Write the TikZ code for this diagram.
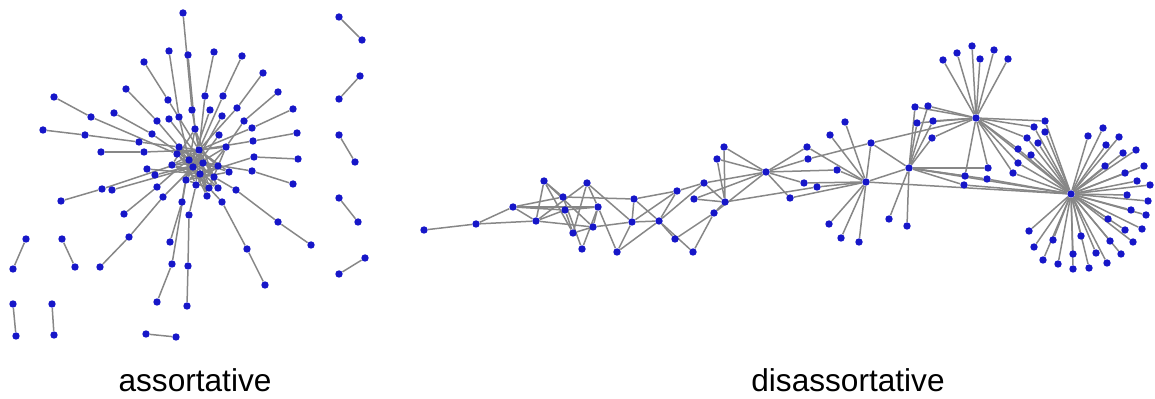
\documentclass[tikz,border=0pt]{standalone}
\usepackage{fontspec}
\setmainfont{Liberation Sans}
\usepackage{xcolor}
\usetikzlibrary{positioning,backgrounds}

\definecolor{dotblue}{RGB}{22,22,200}
\definecolor{edgegray}{RGB}{135,135,135}

\begin{document}
\begin{tikzpicture}[x=0.5pt,y=-0.5pt,
    dot/.style={circle,fill=dotblue,inner sep=0pt,minimum size=3.7pt},
    edge/.style={draw=edgegray,line width=0.75pt},
    lbl/.style={font=\fontsize{15.8}{18}\selectfont,inner sep=0pt}]
        \useasboundingbox (0,0) rectangle (1155,399);

        % Assortative: core
        \foreach \n/\x/\y in {c0/199/150, c1/179/147, c2/177/154, c3/189/160, c4/203/163, c5/172/165,
            c6/193/167, c7/218/166, c8/200/174, c9/214/177, c10/186/180, c11/196/185, c12/209/188,
            c13/218/188, c14/195/129, c15/226/147, c16/207/196, c17/229/172}
            \node[dot] (\n) at (\x,\y) {};

        % Assortative: middle ring
        \foreach \n/\x/\y in {m1/192/110, m2/179/117, m3/205/96, m4/223/96, m5/168/100, m6/237/108,
            m7/157/121, m8/244/121, m9/91/117, m10/252/128, m11/152/134, m12/85/135, m13/253/141,
            m14/144/152, m15/254/157, m16/252/171, m17/102/189, m18/157/187, m19/129/237, m20/163/197,
            m21/182/202, m22/172/264, m23/188/266, m24/189/215, m25/247/249, m26/222/202, m27/278/222,
            m28/236/190, m29/139/142, m30/169/119, m31/222/116, m32/210/110, m33/219/135, m34/147/169,
            m35/155/175, m36/112/190}
            \node[dot] (\n) at (\x,\y) {};

        % Assortative: outer ring
        \foreach \n/\x/\y in {o1/183/13, o2/188/55, o3/169/51, o4/214/52, o5/242/56, o6/144/62,
            o7/263/73, o8/126/89, o9/278/92, o10/54/97, o11/293/109, o12/114/113, o13/43/130,
            o14/297/133, o15/101/152, o16/298/159, o17/293/184, o18/61/201, o19/124/214, o20/100/267,
            o21/170/242, o22/157/302, o23/187/306, o24/265/285, o25/311/245}
            \node[dot] (\n) at (\x,\y) {};

        % Assortative: isolated pairs
        \foreach \n/\x/\y in {p1a/339/17, p1b/362/40, p2a/360/76, p2b/339/99, p3a/339/135, p3b/355/162,
            p4a/339/198, p4b/358/222, p5a/365/258, p5b/339/274, p6a/26/239, p6b/13/269, p7a/62/239,
            p7b/75/267, p8a/13/304, p8b/16/336, p9a/52/304, p9b/54/335, p10a/146/334, p10b/176/337}
            \node[dot] (\n) at (\x,\y) {};

        % Disassortative: chain on the left
        \foreach \n/\x/\y in {r1/424/230, r2/476/224, r3/513/207, r4/536/221, r5/544/181, r6/563/197,
            r7/565/210, r8/573/233, r9/582/249, r10/587/183, r11/598/207, r12/593/227, r13/617/252,
            r14/634/199, r15/632/222, r16/659/221, r17/677/191, r18/675/239, r19/693/252, r20/694/199,
            r21/704/183, r22/714/213, r23/725/202, r24/717/159, r25/724/147}
            \node[dot] (\n) at (\x,\y) {};

        % Disassortative: hubs and their leaves
        \foreach \n/\x/\y in {h1/766/172, h2/866/182, h3/909/168, h4/976/118, h5/1071/194,
            r26/807/147, r27/808/159, r28/837/170, r29/804/183, r30/817/187, r31/790/198, r32/830/135,
            r33/845/122, r34/871/143, r35/829/224, r36/841/238, r37/859/242, r38/889/219, r39/907/226,
            r40/915/107, r41/928/106, r42/917/123, r43/933/121, r44/932/138, r45/965/176, r46/964/185,
            r47/988/168, r48/987/179, r49/1013/173, r50/1018/163, r51/1018/149, r52/1031/155,
            r53/1027/138, r54/1038/143, r55/1034/127, r56/1045/121, r57/1045/132,
            t1/943/60, t2/957/53, t3/972/46, t4/980/59, t5/994/50, t6/1008/59}
            \node[dot] (\n) at (\x,\y) {};

        % Disassortative: fan of the big hub
        \foreach \n/\x/\y in {f1/1088/136, f2/1103/128, f3/1119/137, f4/1106/145, f5/1123/153,
            f6/1136/150, f7/1105/166, f8/1125/173, f9/1144/166, f10/1137/181, f11/1150/185,
            f12/1127/195, f13/1148/201, f14/1131/210, f15/1146/215, f16/1108/219, f17/1125/230,
            f18/1142/229, f19/1133/242, f20/1110/241, f21/1121/254, f22/1096/253, f23/1081/236,
            f24/1107/263, f25/1089/268, f26/1073/254, f27/1073/269, f28/1053/240, f29/1058/264,
            f30/1043/260, f31/1034/247, f32/1029/231}
            \node[dot] (\n) at (\x,\y) {};

        % Labels
        \node[lbl,anchor=base] (assort) at (195,392) {assortative};
        \node[lbl,anchor=base] (disassort) at (848,392) {disassortative};

        % Edges
        \begin{pgfonlayer}{background}
        \foreach \a/\b in {o1/m1, o2/c14, o3/m2, o4/m3, o5/m4, o6/m5, o7/m6, o8/m7, o9/m8, o10/m9,
            o11/m10, o12/m11, o13/m12, o14/m13, o15/m14, o16/m15, o17/m16, o18/m17, o19/m18, o20/m19,
            o21/m21, o22/m22, o23/m23, o24/m25, o25/m27,
            m1/c0, m2/c3, m3/c0, m4/c0, m5/c0, m6/c0, m7/c1, m8/c15, m9/c2, m10/c0, m11/c3, m12/m29,
            m29/c1, m13/c0, m14/c0, m15/c8, m16/c4, m17/c3, m18/c0, m19/m20, m20/c6, m21/c3, m22/c10,
            m23/m24, m24/c11, m25/m26, m26/c12, m27/m28, m28/c9, m30/c4, m31/c6, m32/c10, m33/c10,
            m34/c8, m35/c4, m36/c6,
            c1/c4, c2/c7, c3/c9, c5/c13, c6/c15, c10/c12, c11/c7, c8/c16, c4/c16, c14/c5, c17/c2,
            c1/c9, c3/c13, c14/c10, c15/c11, c2/c12, c5/c9, c1/c11, c13/c14, c17/c10, c6/c1,
            c8/c2, c16/c3, c12/c15, c4/c5, c7/c10}
            \draw[edge] (\a) -- (\b);
        \foreach \i in {1,...,17}
            \draw[edge] (c0) -- (c\i);
        \foreach \i in {1,...,10}
            \draw[edge] (p\i a) -- (p\i b);

        \foreach \a/\b in {r1/r2, r2/r3, r2/r4, r3/r4, r3/r6, r3/r7, r3/r11, r4/r5, r4/r10, r4/r7,
            r4/r12, r5/r6, r5/r8, r5/r12, r6/r9, r6/r14, r7/r11, r7/r8, r10/r11, r10/r8, r10/r15,
            r11/r12, r11/r13, r8/r12, r9/r11, r12/r15, r13/r15, r13/r16, r14/r15, r14/r17, r14/r16,
            r15/r16, r15/r17, r16/r18, r16/r21, r16/r17, r17/r21, r18/r22, r19/r22, r19/r16, r20/r23,
            r20/h1, r21/r23, r21/h1, r22/r23, r22/h1, r23/r24, r23/r25, r24/h1, r25/h1, r23/r30,
            h1/r26, h1/r27, h1/r28, h1/r29, h1/r31, r28/h2, r26/h2, r27/r34, r29/h2, r30/h2, r31/h2,
            r32/h2, r33/h2, r34/h2, r34/h3, r34/h4, h2/h3, h2/h5, h2/r35, h2/r36, h2/r37,
            h3/r40, h3/r41, h3/r42, h3/r43, h3/r44, h3/r38, h3/r39, h3/r45, h3/r46, h3/r47, h3/h5,
            h3/r48, h4/r40, h4/r41, h4/r42, h4/r43, h4/r44, h4/r45, h4/r47, h4/r49, h4/r50, h4/r51,
            h4/r53, h4/r55, h4/r56, h4/h5,
            h5/r46, h5/r48, h5/r49, h5/r50, h5/r51, h5/r52, h5/r53, h5/r54, h5/r55, h5/r56, h5/r57}
            \draw[edge] (\a) -- (\b);
        \foreach \i in {1,...,6}
            \draw[edge] (h4) -- (t\i);
        \foreach \i in {1,...,32}
            \draw[edge] (h5) -- (f\i);
        \end{pgfonlayer}
\end{tikzpicture}
\end{document}
